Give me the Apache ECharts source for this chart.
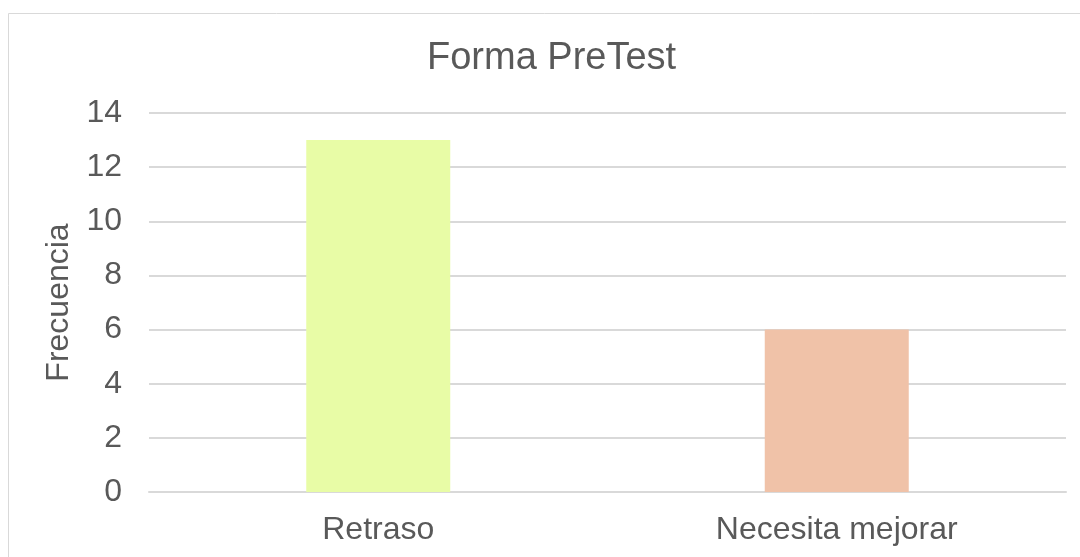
<!DOCTYPE html>
<html>
<head>
<meta charset="utf-8">
<script src="https://cdn.jsdelivr.net/npm/echarts@6/dist/echarts.min.js"></script>
<style>
    html, body { margin: 0; padding: 0; background: #fff; }
    #chart { width: 1080px; height: 557px; }
</style>
</head>
<body>
<div id="chart"></div>
<script>
    // datos
    var categories = ['Retraso', 'Necesita mejorar'];
    var frecuencias = [13, 6];
    var barColors = ['#E8FCA6', '#F0C2A8'];

    var chart = echarts.init(document.getElementById('chart'));
    var textColor = '#595959';
    var font = '"Liberation Sans", Arial, sans-serif';

    var option = {
        backgroundColor: '#fff',
        animation: false,
        title: {
            text: 'Forma PreTest',
            left: 427,
            top: 40,
            padding: 0,
            textStyle: {
                color: textColor,
                fontFamily: font,
                fontWeight: 'normal',
                fontSize: 38
            }
        },
        graphic: [
            {
                type: 'rect',
                shape: {x: 8.5, y: 13.5, width: 1200, height: 700},
                style: {fill: 'none', stroke: '#D9D9D9', lineWidth: 1}
            }
        ],
        grid: {
            left: 149,
            right: 14,
            top: 113,
            bottom: 65
        },
        xAxis: {
            type: 'category',
            data: categories,
            axisTick: {show: false},
            axisLine: {lineStyle: {color: '#D9D9D9', width: 2}},
            axisLabel: {
                color: textColor,
                fontFamily: font,
                fontSize: 32,
                margin: 22
            }
        },
        yAxis: {
            type: 'value',
            min: 0,
            max: 14,
            interval: 2,
            name: 'Frecuencia',
            nameLocation: 'middle',
            nameRotate: 90,
            nameGap: 68,
            nameTextStyle: {
                color: textColor,
                fontFamily: font,
                fontSize: 32
            },
            axisLine: {show: false},
            axisTick: {show: false},
            splitLine: {lineStyle: {color: '#D9D9D9', width: 2}},
            axisLabel: {
                color: textColor,
                fontFamily: font,
                fontSize: 32,
                margin: 27
            }
        },
        series: [
            {
                type: 'bar',
                barWidth: 144,
                data: frecuencias.map(function (v, i) {
                    return {value: v, itemStyle: {color: barColors[i]}};
                })
            }
        ]
    };

    chart.setOption(option);
</script>
</body>
</html>
